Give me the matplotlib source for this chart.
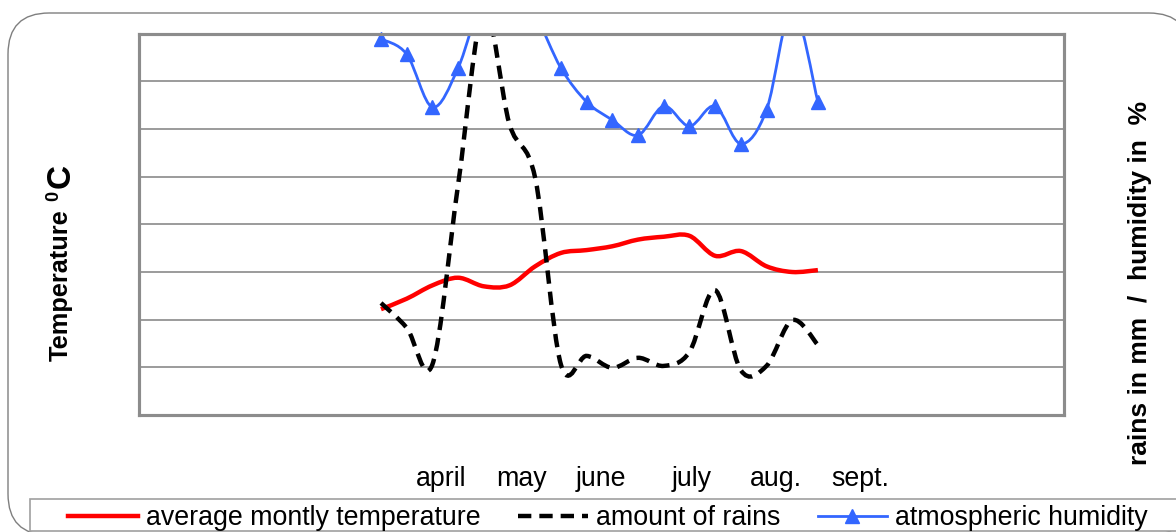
import numpy as np
import matplotlib
matplotlib.use("Agg")
import matplotlib.pyplot as plt
from matplotlib.path import Path
from matplotlib.patches import PathPatch, FancyBboxPatch, Rectangle
from matplotlib.lines import Line2D

plt.rcParams['font.family'] = ['Liberation Sans', 'DejaVu Sans']

# ---- data ----
months = ["april", "may", "june", "july", "aug.", "sept."]
temperature = [11.1, 12.2, 13.6, 14.4, 13.5, 13.6, 15.6, 17.0, 17.3, 17.7,
               18.4, 18.7, 18.8, 16.7, 17.2, 15.6, 15.0, 15.2]
rains = [23.5, 18.3, 10.6, 48.3, 85.0, 61.0, 49.7, 10.6, 12.4, 9.9,
         12.0, 10.3, 13.2, 26.2, 9.4, 10.3, 19.9, 14.7]
humidity = [78.9, 75.7, 64.6, 72.8, 88.1, 90.2, 83.9, 72.8, 65.7, 61.9,
            58.7, 64.8, 60.6, 64.8, 56.9, 64.0, 85.4, 65.7]
labels = ["average montly temperature", "amount of rains", "atmospheric humidity"]

# ---- layout ----
W, H = 1176, 532
fig = plt.figure(figsize=(W / 100, H / 100), dpi=100)

def fx(px):
    return px / W

def fy(py):
    return 1 - py / H

# outer rounded chart border
outer = FancyBboxPatch((fx(8), fy(535)), fx(1190) - fx(8), fy(13) - fy(535),
                       boxstyle="round,pad=0,rounding_size=0.035",
                       transform=fig.transFigure, facecolor="white",
                       edgecolor="#7f7f7f", lw=1.0, mutation_aspect=W / H, zorder=-10)
fig.patches.append(outer)

ax = fig.add_axes([fx(139), fy(415), fx(1064) - fx(139), fy(33.7) - fy(415)])
ax.set_zorder(2)
ax2 = ax.twinx()
ax2.set_zorder(3)
ax.patch.set_facecolor("white")
ax2.patch.set_visible(False)

n = len(temperature)
xs = np.arange(n)
step_px = 25.7
ax.set_xlim((139 - 381) / step_px, (1064 - 381) / step_px)
ax.set_ylim(0, 40)
ax2.set_ylim(0, 80)

ax.set_yticks(np.arange(0, 41, 5))
ax.yaxis.grid(True, color="#808080", lw=1.1)
ax.set_axisbelow(True)
ax.tick_params(axis="y", left=False, labelleft=False)
ax2.tick_params(axis="y", right=False, labelright=False)
ax2.set_yticks([])

for a in (ax, ax2):
    for s in a.spines.values():
        s.set_color("#8c8c8c")
        s.set_linewidth(2.2)


def smooth_path(x, y):
    pts = np.column_stack([x, y]).astype(float)
    m = len(pts)
    verts = [pts[0]]
    codes = [Path.MOVETO]
    for i in range(m - 1):
        p0 = pts[max(i - 1, 0)]
        p1 = pts[i]
        p2 = pts[i + 1]
        p3 = pts[min(i + 2, m - 1)]
        verts += [p1 + (p2 - p0) / 6, p2 - (p3 - p1) / 6, p2]
        codes += [Path.CURVE4] * 3
    return Path(verts, codes)


red = "#ff0000"
blue = "#3366ff"
ax.add_patch(PathPatch(smooth_path(xs, temperature), fill=False, edgecolor=red,
                       lw=3.2, capstyle="butt", joinstyle="round"))
ax2.add_patch(PathPatch(smooth_path(xs, rains), fill=False, edgecolor="black",
                        lw=3.2, linestyle=(0, (3.0, 1.8)), capstyle="butt"))
ax2.add_patch(PathPatch(smooth_path(xs, humidity), fill=False, edgecolor=blue,
                        lw=2.0, joinstyle="round"))
ymax2 = ax2.get_ylim()[1]
visible = [i for i, v in enumerate(humidity) if v <= ymax2]
ax2.plot(xs, humidity, linestyle="none", marker="^", markersize=10.5,
         color=blue, markeredgecolor=blue, markevery=visible, clip_on=False)

# month labels
tick_pos = [(441.6 - 381) / step_px, (521.6 - 381) / step_px, (601.3 - 381) / step_px,
            (692 - 381) / step_px, (775.8 - 381) / step_px, (860.5 - 381) / step_px]
ax.set_xticks(tick_pos)
ax.set_xticklabels(months, fontsize=19.3)
ax.tick_params(axis="x", length=0, pad=37)

# axis titles
fig.text(fx(61), fy(285), "Temperature", rotation=90, fontsize=18.3,
         fontweight="bold", ha="center", va="center")
fig.text(fx(54), fy(196), "0", rotation=90, fontsize=13,
         fontweight="bold", ha="center", va="center")
fig.text(fx(61), fy(176), "C", rotation=90, fontsize=24,
         fontweight="bold", ha="center", va="center")
fig.text(fx(1140), fy(283), "rains in mm  /  humidity in  %", rotation=90,
         fontsize=19, fontweight="bold", ha="center", va="center")

# legend
fig.patches.append(Rectangle((fx(30), fy(531)), fx(1190) - fx(30), fy(499.3) - fy(531),
                             transform=fig.transFigure, facecolor="white",
                             edgecolor="#a0a0a0", lw=1.2, zorder=4))
handles = [Line2D([], [], color=red, lw=3.2),
           Line2D([], [], color="black", lw=3.2, linestyle=(0, (3.0, 1.8))),
           Line2D([], [], color=blue, lw=2.0, marker="^", markersize=10.5)]
leg = fig.legend(handles, labels, loc="center left",
                 bbox_to_anchor=(fx(68), fy(518)), ncol=3, frameon=False,
                 fontsize=19.3, handlelength=2.6, handletextpad=0.3,
                 columnspacing=1.4, borderpad=0, borderaxespad=0)
leg.set_zorder(5)

fig.savefig("out.png", dpi=100)
